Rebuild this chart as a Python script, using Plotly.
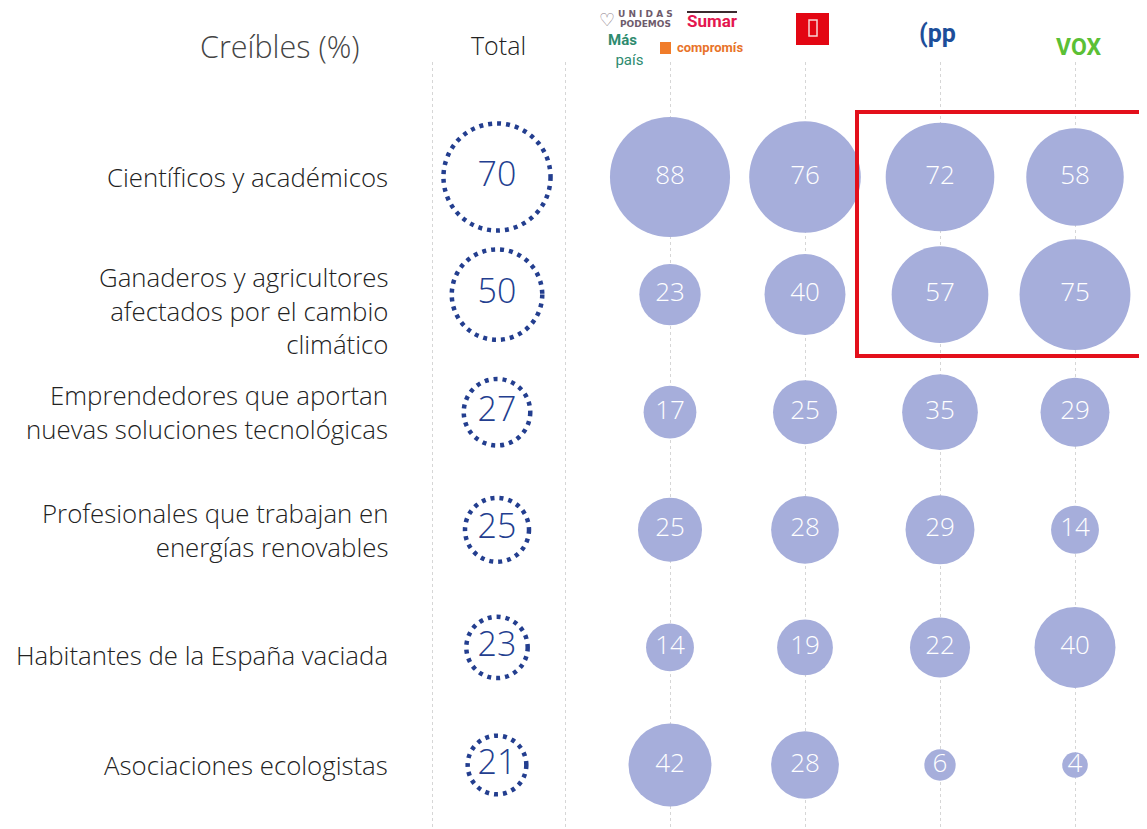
import numpy as np
import plotly.graph_objects as go

# ---------------- data ----------------
categories = [
    "Científicos y académicos",
    "Ganaderos y agricultores afectados por el cambio climático",
    "Emprendedores que aportan nuevas soluciones tecnológicas",
    "Profesionales que trabajan en energías renovables",
    "Habitantes de la España vaciada",
    "Asociaciones ecologistas",
]
category_labels = [
    "Científicos y académicos",
    "Ganaderos y agricultores<br>afectados por el cambio<br>climático",
    "Emprendedores que aportan<br>nuevas soluciones tecnológicas",
    "Profesionales que trabajan en<br>energías renovables",
    "Habitantes de la España vaciada",
    "Asociaciones ecologistas",
]
parties = ["Sumar", "PSOE", "PP", "VOX"]
total = [70, 50, 27, 25, 23, 21]
sumar = [88, 23, 17, 25, 14, 42]
psoe = [76, 40, 25, 28, 19, 28]
pp = [72, 57, 35, 29, 22, 6]
vox = [58, 75, 29, 14, 40, 4]
party_values = [sumar, psoe, pp, vox]

# ---------------- layout constants ----------------
W, H = 1147, 829
OFF = 8                        # default page body margin
ML, MR, MT, MB = 392, 0, 54, 8
PW, PH = W - ML - MR, H - MT - MB
X0PX, XSTEP = 535, 135.0       # screen pixel of x=0, pixels per x unit
ROW0, RSTEP = 177, 117.6       # screen pixel of first row, pixels per row
DIAM_K = 12.8                  # bubble diameter (px) per sqrt(value)

BUBBLE = "#A6AEDB"
NAVY = "#233E8F"
FONT = "Open Sans"

def xd(p):  # screen pixel -> x data
    return (p - X0PX) / XSTEP

def yd(p):  # screen pixel -> y data
    return (p - ROW0) / RSTEP

def xp(p):  # screen pixel -> paper x
    return (p - OFF - ML) / PW

def yp(p):  # screen pixel -> paper y
    return (H - MB - (p - OFF)) / PH

rows = list(range(len(categories)))
total_x = xd(497)
party_x = [1, 2, 3, 4]
sep_x = [xd(432), xd(565)]

fig = go.Figure()

# party bubbles
for px_, vals, name in zip(party_x, party_values, parties):
    fig.add_trace(go.Scatter(
        x=[px_] * len(vals), y=rows, mode="markers+text", name=name,
        marker=dict(size=[DIAM_K * np.sqrt(v) for v in vals], color=BUBBLE,
                    line=dict(width=0), opacity=1),
        text=[str(v) for v in vals], textposition="middle center",
        textfont=dict(family=FONT, size=26, color="white", weight=300),
        cliponaxis=False, hoverinfo="skip",
    ))

# total column text
fig.add_trace(go.Scatter(
    x=[total_x] * len(total), y=rows, mode="text", name="Total",
    text=[str(v) for v in total], textposition="middle center",
    textfont=dict(family=FONT, size=34, color=NAVY, weight=300),
    cliponaxis=False, hoverinfo="skip",
))

shapes = []
# dotted circles for total
for r, v in zip(rows, total):
    rad = DIAM_K * np.sqrt(v) / 2
    shapes.append(dict(
        type="circle", xref="x", yref="y", xsizemode="pixel", ysizemode="pixel",
        xanchor=total_x, yanchor=r, x0=-rad, x1=rad, y0=-rad, y1=rad,
        line=dict(color=NAVY, width=4.5, dash="4px,5px"), layer="above",
    ))

# red highlight box (PP & VOX, first two rows)
shapes.append(dict(type="rect", xref="x", yref="y",
                   x0=xd(857), x1=xd(1170), y0=yd(112), y1=yd(356),
                   line=dict(color="#E3101B", width=4), layer="above"))

# header logo shapes
shapes.append(dict(type="line", xref="paper", yref="paper",
                   x0=xp(687), x1=xp(737), y0=yp(12), y1=yp(12),
                   line=dict(color="#3B2A2E", width=2)))
shapes.append(dict(type="rect", xref="paper", yref="paper",
                   x0=xp(660), x1=xp(671), y0=yp(54), y1=yp(42),
                   fillcolor="#F07C2A", line=dict(width=0)))
shapes.append(dict(type="rect", xref="paper", yref="paper",
                   x0=xp(796), x1=xp(829), y0=yp(45), y1=yp(13),
                   fillcolor="#E30613", line=dict(width=0)))
shapes.append(dict(type="rect", xref="paper", yref="paper",
                   x0=xp(809), x1=xp(817), y0=yp(36), y1=yp(20),
                   fillcolor="rgba(0,0,0,0)", line=dict(color="#F8D5D5", width=1.5)))

annotations = []
label_shift = [0, -16, 0, 0, -8, 0]
for r, lab, sh in zip(rows, category_labels, label_shift):
    annotations.append(dict(
        xref="paper", yref="y", x=0, y=r, xanchor="right", yanchor="middle",
        xshift=-10, yshift=sh, text=lab, align="right", showarrow=False,
        font=dict(family=FONT, size=25.8, color="#222222", weight=300),
    ))

def head(text, x, y, size, color, family=FONT, weight=None, align="center"):
    f = dict(family=family, size=size, color=color)
    if weight:
        f["weight"] = weight
    annotations.append(dict(xref="paper", yref="paper", x=xp(x), y=yp(y),
                            xanchor="center", yanchor="middle", text=text,
                            showarrow=False, font=f, align=align, borderpad=0))

head("Creíbles (%)", 280, 46, 30.5, "#444444", weight=300)
head("Total", 498, 45, 25, "#222222", weight=300)
head("♡", 607, 19, 18, "#8A7C88", family="DejaVu Sans")
head("<b>U N I D A S</b>", 645, 14, 9, "#6E5B6C", family="DejaVu Sans")
head("<b>PODEMOS</b>", 645, 24, 9, "#6E5B6C", family="DejaVu Sans")
head("<b>Sumar</b>", 712, 21, 17, "#E4174F", family="Roboto")
head("<b>Más</b><br>&nbsp;&nbsp;país", 625, 50, 15, "#2E8B6F", family="Roboto", align="left")
head("<b>compromís</b>", 710, 48, 13, "#E8732A", family="Roboto")
head("<b>(pp</b>", 937, 34, 25, "#1D4E9A", family="Roboto")
head("<b>VOX</b>", 1078, 47, 23, "#5BC035", family="Roboto")

fig.update_layout(
    width=W, height=H,
    margin=dict(l=ML, r=MR, t=MT, b=MB, pad=0),
    paper_bgcolor="white", plot_bgcolor="white",
    showlegend=False,
    xaxis=dict(range=[xd(ML + OFF), xd(W - MR + OFF)], tickvals=sep_x + party_x,
               showticklabels=False, showgrid=True, griddash="dot",
               gridcolor="#D6D6D6", gridwidth=1, zeroline=False, showline=False,
               ticks=""),
    yaxis=dict(range=[yd(H - MB + OFF), yd(MT + OFF)], showgrid=False, zeroline=False,
               showticklabels=False, showline=False, ticks=""),
    shapes=shapes, annotations=annotations,
    font=dict(family=FONT),
)

fig.write_html("out.html")
